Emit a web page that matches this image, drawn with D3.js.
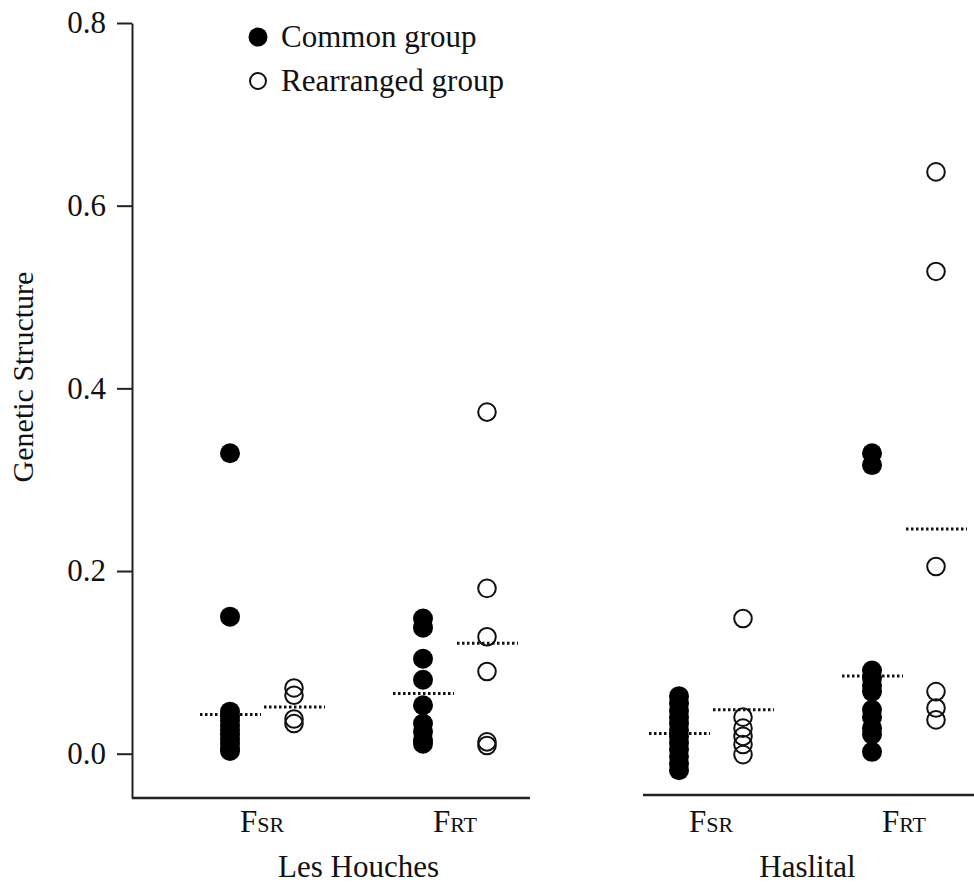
<!DOCTYPE html>
<html>
<head>
<meta charset="utf-8">
<script src="https://cdn.jsdelivr.net/npm/d3@7"></script>
<style>
  body { margin: 0; background: #fff; }
  text { font-family: "Liberation Serif", "Times New Roman", serif; fill: #111; }
</style>
</head>
<body>
<svg id="chart" width="974" height="883"></svg>
<script>
// ---- data ----
const groups = ["Les Houches", "Haslital"];
const measures = ["FSR", "FRT"];
const measureLabels = { FSR: ["F", "SR"], FRT: ["F", "RT"] };
const series = ["Common group", "Rearranged group"];
const yTicks = [0.0, 0.2, 0.4, 0.6, 0.8];

const lhFsrCommon = [0.329, 0.150, 0.046, 0.041, 0.036, 0.031, 0.026, 0.021, 0.016, 0.011, 0.006, 0.003];
const lhFsrRearranged = [0.072, 0.064, 0.038, 0.033];
const lhFrtCommon = [0.148, 0.138, 0.104, 0.081, 0.053, 0.033, 0.024, 0.015, 0.011];
const lhFrtRearranged = [0.374, 0.181, 0.128, 0.090, 0.013, 0.009];
const haFsrCommon = [0.063, 0.055, 0.047, 0.040, 0.033, 0.026, 0.019, 0.012, 0.005, -0.003, -0.011, -0.018];
const haFsrRearranged = [0.148, 0.040, 0.028, 0.019, 0.010, -0.001];
const haFrtCommon = [0.329, 0.316, 0.091, 0.083, 0.075, 0.068, 0.048, 0.040, 0.028, 0.021, 0.002];
const haFrtRearranged = [0.637, 0.528, 0.205, 0.068, 0.050, 0.037];

// dotted reference lines (group averages)
const lhLines = [0.043, 0.051, 0.066, 0.121];
const haLines = [0.022, 0.048, 0.085, 0.246];

const columns = [
  { group: "Les Houches", measure: "FSR", series: "Common group", values: lhFsrCommon, line: lhLines[0] },
  { group: "Les Houches", measure: "FSR", series: "Rearranged group", values: lhFsrRearranged, line: lhLines[1] },
  { group: "Les Houches", measure: "FRT", series: "Common group", values: lhFrtCommon, line: lhLines[2] },
  { group: "Les Houches", measure: "FRT", series: "Rearranged group", values: lhFrtRearranged, line: lhLines[3] },
  { group: "Haslital", measure: "FSR", series: "Common group", values: haFsrCommon, line: haLines[0] },
  { group: "Haslital", measure: "FSR", series: "Rearranged group", values: haFsrRearranged, line: haLines[1] },
  { group: "Haslital", measure: "FRT", series: "Common group", values: haFrtCommon, line: haLines[2] },
  { group: "Haslital", measure: "FRT", series: "Rearranged group", values: haFrtRearranged, line: haLines[3] }
];

// ---- layout ----
const svg = d3.select("#chart");
const axisX = 132;
const y = d3.scaleLinear().domain([-0.0485, 0.8]).range([798, 23]);
const xGroup = d3.scalePoint().domain(groups).range([262, 711]);
const xMeasure = d3.scalePoint().domain(measures).range([0, 193]);
const xSeries = d3.scalePoint().domain(series).range([-32, 32]);
const colX = d => xGroup(d.group) + xMeasure(d.measure) + xSeries(d.series);

const FS = 31;

// y axis
const yAxis = d3.axisLeft(y).tickValues(yTicks).tickFormat(d3.format(".1f"))
  .tickSize(15).tickSizeOuter(0).tickPadding(11);
const gy = svg.append("g").attr("transform", `translate(${axisX},0)`).call(yAxis);
gy.select(".domain").attr("stroke", "#222").attr("stroke-width", 2);
gy.selectAll(".tick line").attr("stroke", "#222").attr("stroke-width", 2);
gy.selectAll(".tick text").attr("font-size", 31).attr("fill", "#111");

svg.append("text")
  .attr("transform", "translate(33,377) rotate(-90)")
  .attr("text-anchor", "middle")
  .attr("font-size", 30)
  .text("Genetic Structure");

// panel baselines
const baselines = [
  { group: "Les Houches", x0: axisX, x1: 530, y: 798 },
  { group: "Haslital", x0: 643, x1: 974, y: 795 }
];
svg.selectAll(".baseline").data(baselines).enter().append("line")
  .attr("x1", d => d.x0).attr("x2", d => d.x1)
  .attr("y1", d => d.y).attr("y2", d => d.y)
  .attr("stroke", "#222").attr("stroke-width", 2.5);

// measure labels
groups.forEach(g => {
  measures.forEach(m => {
    const t = svg.append("text")
      .attr("x", xGroup(g) + xMeasure(m))
      .attr("y", 832)
      .attr("text-anchor", "middle")
      .attr("font-size", FS);
    t.append("tspan").text(measureLabels[m][0]);
    t.append("tspan").attr("font-size", 22).text(measureLabels[m][1]);
  });
  svg.append("text")
    .attr("x", xGroup(g) + xMeasure.range()[1] / 2)
    .attr("y", 877)
    .attr("text-anchor", "middle")
    .attr("font-size", FS)
    .text(g);
});

// dotted lines
svg.selectAll(".mean").data(columns).enter().append("line")
  .attr("x1", d => colX(d) - 30).attr("x2", d => colX(d) + 31)
  .attr("y1", d => y(d.line)).attr("y2", d => y(d.line))
  .attr("stroke", "#111").attr("stroke-width", 3)
  .attr("stroke-dasharray", "2.5,2.5");

// points
const pts = columns.flatMap(c => c.values.map(v => ({ c, v })));
svg.selectAll(".pt").data(pts).enter().append("circle")
  .attr("cx", d => colX(d.c))
  .attr("cy", d => y(d.v))
  .attr("r", d => d.c.series === "Common group" ? 10 : 8.8)
  .attr("fill", d => d.c.series === "Common group" ? "#000" : "none")
  .attr("stroke", d => d.c.series === "Common group" ? "none" : "#111")
  .attr("stroke-width", 2);

// legend
const legend = svg.append("g");
series.forEach((s, i) => {
  const ly = 37 + i * 44;
  legend.append("circle")
    .attr("cx", 258).attr("cy", ly)
    .attr("r", s === "Common group" ? 9.5 : 8)
    .attr("fill", s === "Common group" ? "#000" : "none")
    .attr("stroke", s === "Common group" ? "none" : "#111")
    .attr("stroke-width", 2);
  legend.append("text")
    .attr("x", 281).attr("y", ly + 10)
    .attr("font-size", FS)
    .text(s);
});
</script>
</body>
</html>
